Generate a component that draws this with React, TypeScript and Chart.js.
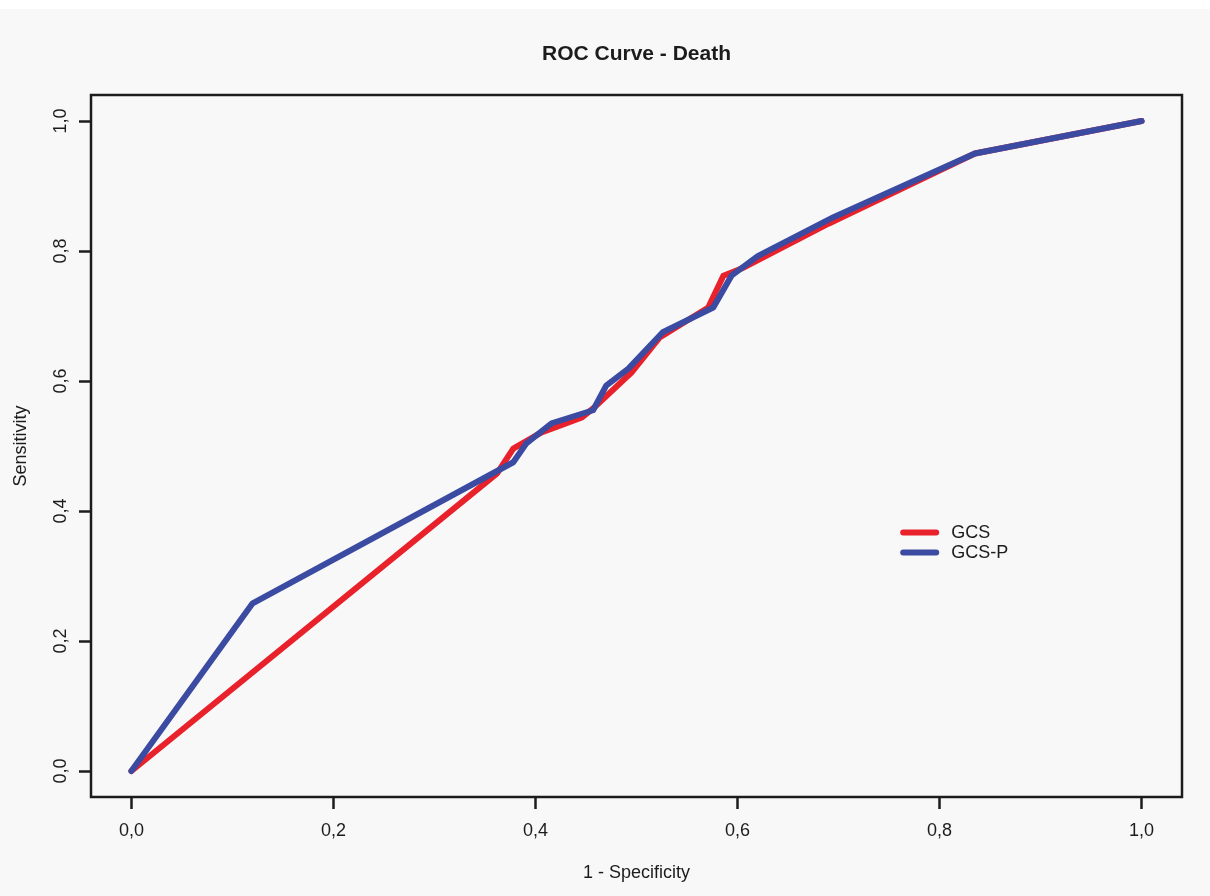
import { useEffect, useRef } from "react";
import { Chart, registerables } from "chart.js";

Chart.register(...registerables);

const TITLE = "ROC Curve - Death";
const X_LABEL = "1 - Specificity";
const Y_LABEL = "Sensitivity";
const TICK_VALUES = [0, 0.2, 0.4, 0.6, 0.8, 1.0];
const SERIES_NAMES = ["GCS", "GCS-P"];

// GCS: false positive rate (1 - specificity) and sensitivity
const GCS_FPR = [0, 0.362, 0.378, 0.406, 0.446, 0.458, 0.495, 0.523, 0.571, 0.586, 0.604, 0.69, 0.835, 1];
const GCS_TPR = [0, 0.458, 0.496, 0.521, 0.544, 0.559, 0.613, 0.667, 0.713, 0.762, 0.773, 0.842, 0.95, 1];

// GCS-P: false positive rate (1 - specificity) and sensitivity
const GCSP_FPR = [0, 0.12, 0.378, 0.391, 0.416, 0.457, 0.47, 0.492, 0.526, 0.576, 0.594, 0.62, 0.695, 0.835, 1];
const GCSP_TPR = [0, 0.258, 0.475, 0.504, 0.535, 0.555, 0.593, 0.619, 0.675, 0.713, 0.762, 0.792, 0.852, 0.95, 1];

const FONT = "'Liberation Sans', Arial, Helvetica, sans-serif";
const INK = "#1c1c1c";

const toPoints = (xs: number[], ys: number[]) => xs.map((x, i) => ({ x, y: ys[i] }));
const fmt = (v: number) => Number(v).toFixed(1).replace(".", ",");

// page background (light grey with a thin white strip at the very top)
const backdrop = {
  id: "backdrop",
  beforeDraw(chart: any) {
    const { ctx, width, height } = chart;
    ctx.save();
    ctx.fillStyle = "#ffffff";
    ctx.fillRect(0, 0, width, height);
    ctx.fillStyle = "#f8f8f9";
    ctx.fillRect(0, 9, width, height - 9);
    ctx.restore();
  },
};

// closed frame around the plotting region
const frame = {
  id: "frame",
  afterDatasetsDraw(chart: any) {
    const { ctx, chartArea: a } = chart;
    ctx.save();
    ctx.strokeStyle = INK;
    ctx.lineWidth = 2.5;
    ctx.strokeRect(a.left, a.top, a.right - a.left, a.bottom - a.top);
    ctx.restore();
  },
};

// legend placed inside the plot, anchored in data coordinates
const insetLegend = {
  id: "insetLegend",
  afterDatasetsDraw(chart: any) {
    const { ctx, scales } = chart;
    const left = scales.x.getPixelForValue(0.764);
    const top = scales.y.getPixelForValue(0.367);
    ctx.save();
    ctx.font = `18px ${FONT}`;
    ctx.textBaseline = "middle";
    ctx.textAlign = "left";
    chart.data.datasets.forEach((ds: any, i: number) => {
      const yy = top + i * 20;
      ctx.strokeStyle = ds.borderColor;
      ctx.lineWidth = 6;
      ctx.lineCap = "round";
      ctx.beginPath();
      ctx.moveTo(left, yy);
      ctx.lineTo(left + 33, yy);
      ctx.stroke();
      ctx.fillStyle = INK;
      ctx.fillText(ds.label, left + 48, yy + 1);
    });
    ctx.restore();
  },
};

const fixedTicks = (scale: any) => {
  scale.ticks = TICK_VALUES.map((value) => ({ value }));
};

export default function App() {
  const canvasRef = useRef<HTMLCanvasElement | null>(null);

  useEffect(() => {
    if (!canvasRef.current) return;
    Chart.defaults.font.family = FONT;
    const chart = new Chart(canvasRef.current, {
      type: "line",
      data: {
        datasets: [
          {
            label: SERIES_NAMES[0],
            data: toPoints(GCS_FPR, GCS_TPR),
            borderColor: "#e8212b",
            borderWidth: 6,
            borderCapStyle: "round",
            borderJoinStyle: "round",
            pointRadius: 0,
            tension: 0,
            fill: false,
            order: 2,
          },
          {
            label: SERIES_NAMES[1],
            data: toPoints(GCSP_FPR, GCSP_TPR),
            borderColor: "#3b4ba1",
            borderWidth: 6,
            borderCapStyle: "round",
            borderJoinStyle: "round",
            pointRadius: 0,
            tension: 0,
            fill: false,
            order: 1,
          },
        ],
      },
      options: {
        animation: false,
        responsive: false,
        devicePixelRatio: 1,
        events: [],
        layout: { padding: { top: 0, right: 28, bottom: 0, left: 0 } },
        plugins: {
          legend: { display: false },
          tooltip: { enabled: false },
          title: {
            display: true,
            text: TITLE,
            fullSize: false,
            color: INK,
            font: { size: 21, weight: "bold", family: FONT },
            padding: { top: 41.4, bottom: 28.4 },
          },
        },
        scales: {
          x: {
            type: "linear",
            min: -0.04,
            max: 1.04,
            afterBuildTicks: fixedTicks,
            afterFit: (s: any) => {
              s.height = 99;
            },
            border: { display: false },
            grid: {
              drawOnChartArea: false,
              drawTicks: true,
              tickLength: 12,
              tickWidth: 2.5,
              tickColor: INK,
            },
            ticks: {
              color: INK,
              font: { size: 18 },
              padding: 11,
              maxRotation: 0,
              callback: (v: any) => fmt(v),
            },
            title: {
              display: true,
              text: X_LABEL,
              color: INK,
              font: { size: 18 },
              padding: { top: 0, bottom: 12 },
            },
          },
          y: {
            type: "linear",
            min: -0.04,
            max: 1.04,
            afterBuildTicks: fixedTicks,
            afterFit: (s: any) => {
              s.width = 91;
            },
            border: { display: false },
            grid: {
              drawOnChartArea: false,
              drawTicks: true,
              tickLength: 12,
              tickWidth: 2.5,
              tickColor: INK,
            },
            ticks: {
              color: INK,
              font: { size: 18 },
              padding: 5,
              minRotation: 90,
              maxRotation: 90,
              crossAlign: "center",
              callback: (v: any) => fmt(v),
            },
            title: {
              display: true,
              text: Y_LABEL,
              color: INK,
              font: { size: 18 },
              padding: { top: 10, bottom: 0 },
            },
          },
        },
      },
      plugins: [backdrop, frame, insetLegend],
    } as any);
    return () => chart.destroy();
  }, []);

  return (
    <div style={{ position: "absolute", left: 0, top: 0, width: 1210, height: 896 }}>
      <canvas ref={canvasRef} width={1210} height={896} style={{ display: "block" }} />
    </div>
  );
}
